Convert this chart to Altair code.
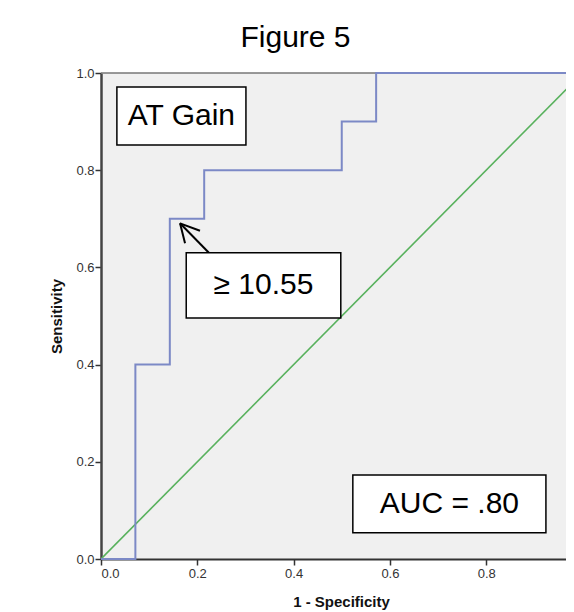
import altair as alt
import pandas as pd

# ROC curve (1 - specificity, sensitivity)
fpr = [0.0, 0.0714, 0.0714, 0.1429, 0.1429, 0.2143, 0.2143, 0.5, 0.5, 0.5714, 0.5714, 1.0]
tpr = [0.0, 0.0, 0.4, 0.4, 0.7, 0.7, 0.8, 0.8, 0.9, 0.9, 1.0, 1.0]

# reference diagonal
diag_x = [0.0, 1.0]
diag_y = [0.0, 1.0]

# annotation boxes (data units)
box_labels = ["AT Gain", "≥ 10.55", "AUC = .80"]
box_x1 = [0.033, 0.177, 0.523]
box_x2 = [0.301, 0.498, 0.924]
box_y1 = [0.852, 0.496, 0.054]
box_y2 = [0.971, 0.630, 0.173]

# arrow segments (shaft + two head arms)
seg_x1 = [0.224, 0.1641, 0.1641]
seg_y1 = [0.630, 0.6907, 0.6907]
seg_x2 = [0.1641, 0.2056, 0.1745]
seg_y2 = [0.6907, 0.6755, 0.6496]

ticks = [0.0, 0.2, 0.4, 0.6, 0.8]
x_visible_max = 0.9657  # the original figure is cut off at its right edge

FONT = "Liberation Sans, Arial, sans-serif"

df_roc = pd.DataFrame({"fpr": fpr, "tpr": tpr, "idx": list(range(len(fpr)))})
df_diag = pd.DataFrame({"x": diag_x, "y": diag_y})
df_box = pd.DataFrame({
    "label": box_labels, "x1": box_x1, "x2": box_x2, "y1": box_y1, "y2": box_y2,
})
df_box["xc"] = (df_box["x1"] + df_box["x2"]) / 2
df_box["yc"] = (df_box["y1"] + df_box["y2"]) / 2
df_seg = pd.DataFrame({"x1": seg_x1, "y1": seg_y1, "x2": seg_x2, "y2": seg_y2})
df_top = pd.DataFrame({"y": [1.0]})

xs = alt.Scale(domain=[0, x_visible_max], nice=False, zero=False)
ys = alt.Scale(domain=[0, 1], nice=False, zero=False)

xaxis = alt.Axis(values=ticks, format=".1f", grid=False, tickSize=6, tickWidth=1.5,
                 tickColor="#333", domainColor="#333", domainWidth=2,
                 labelFontSize=13, labelColor="#333", labelFont=FONT, labelPadding=2,
                 title="1 - Specificity", titleFont=FONT, titleFontSize=15,
                 titleFontWeight="bold", titleColor="#111",
                 titleX=240, titleAlign="center",
                 titleBaseline="alphabetic", titleY=47)
yaxis = alt.Axis(values=[0.0, 0.2, 0.4, 0.6, 0.8, 1.0], format=".1f", grid=False,
                 tickSize=6, tickWidth=1.5,
                 tickColor="#333", domainColor="#444", domainWidth=2.5,
                 labelFontSize=13, labelColor="#333", labelFont=FONT, labelPadding=1,
                 title="Sensitivity", titleFont=FONT, titleFontSize=15,
                 titleFontWeight="bold", titleColor="#111",
                 titleX=-45, titleY=243, titleAngle=-90, titleAlign="center",
                 titleBaseline="middle")

top = alt.Chart(df_top).mark_rule(color="#777", strokeWidth=1.5).encode(
    y=alt.Y("y:Q", scale=ys),
)
diag = alt.Chart(df_diag).mark_line(color="#58b15d", strokeWidth=1.6, clip=True).encode(
    x=alt.X("x:Q", scale=xs, axis=xaxis),
    y=alt.Y("y:Q", scale=ys, axis=yaxis),
)
roc = alt.Chart(df_roc).mark_line(color="#7c89c6", strokeWidth=2).encode(
    x=alt.X("fpr:Q", scale=xs),
    y=alt.Y("tpr:Q", scale=ys),
    order="idx:Q",
)
arrow = alt.Chart(df_seg).mark_rule(color="black", strokeWidth=2).encode(
    x="x1:Q", y="y1:Q", x2="x2:Q", y2="y2:Q",
)
rects = alt.Chart(df_box).mark_rect(fill="white", stroke="black", strokeWidth=1.5).encode(
    x="x1:Q", x2="x2:Q", y="y1:Q", y2="y2:Q",
)
texts = alt.Chart(df_box).mark_text(fontSize=30, font=FONT, color="black",
                                    baseline="middle", align="center").encode(
    x="xc:Q", y="yc:Q", text="label:N",
)

chart = alt.layer(top, diag, roc, arrow, rects, texts).properties(
    width=465, height=486,
    title=alt.TitleParams("Figure 5", fontSize=30, font=FONT, fontWeight="normal",
                          anchor="middle", frame="group", dx=-38, offset=14,
                          color="black"),
    autosize=alt.AutoSizeParams(type="none"),
    padding={"left": 93, "top": 65, "right": 0, "bottom": 53},
).configure_view(fill="#f0f0f0", stroke=None)

chart.save("out.html", embed_options={"renderer": "svg", "actions": False})
